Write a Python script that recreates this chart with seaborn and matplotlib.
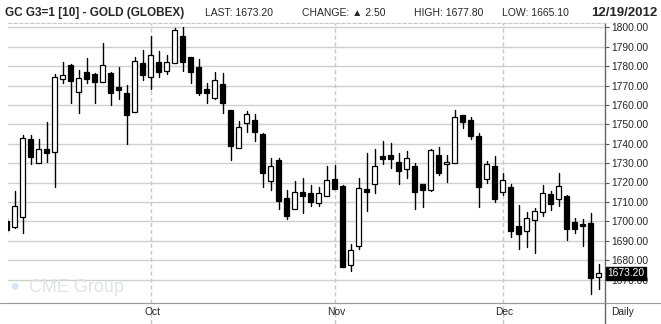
import numpy as np
import pandas as pd
import matplotlib
matplotlib.use("Agg")
import matplotlib.pyplot as plt
from matplotlib.lines import Line2D
import seaborn as sns

# ---------------- data ----------------
opens = [1700.0, 1696.9, 1702.4, 1742.4, 1729.9, 1737.1, 1735.9, 1773.5, 1780.6, 1766.5,
         1777.0, 1775.9, 1771.6, 1776.5, 1769.2, 1766.2, 1756.2, 1781.6, 1774.6, 1782.1,
         1777.7, 1781.4, 1795.5, 1784.7, 1779.6, 1768.2, 1763.7, 1770.8, 1757.4, 1738.0,
         1750.5, 1752.2, 1745.0, 1720.6, 1731.6, 1712.0, 1706.2, 1715.0, 1714.6, 1709.3,
         1712.9, 1721.6, 1718.2, 1677.3, 1687.5, 1716.7, 1719.1, 1733.7, 1734.2, 1730.4,
         1726.8, 1728.5, 1719.1, 1716.3, 1734.0, 1729.4, 1730.2, 1754.6, 1752.2, 1744.0,
         1721.6, 1728.5, 1715.0, 1717.7, 1697.6, 1694.8, 1700.5, 1704.6, 1714.1, 1711.3,
         1713.1, 1699.7, 1698.6, 1699.3, 1671.5]
highs = [1701.5, 1715.6, 1744.5, 1744.5, 1742.4, 1751.2, 1775.9, 1782.1, 1781.1, 1778.0,
         1784.2, 1776.6, 1791.8, 1776.8, 1779.6, 1770.1, 1784.5, 1788.3, 1795.7, 1787.8,
         1785.7, 1799.7, 1800.3, 1784.9, 1783.5, 1771.5, 1777.1, 1776.5, 1757.6, 1751.7,
         1757.0, 1755.3, 1745.4, 1732.6, 1732.6, 1716.2, 1720.6, 1722.3, 1718.7, 1717.9,
         1728.7, 1729.0, 1718.9, 1688.3, 1722.3, 1735.2, 1737.3, 1741.4, 1740.2, 1735.2,
         1736.3, 1729.9, 1719.3, 1737.3, 1738.5, 1734.2, 1757.4, 1754.8, 1754.0, 1745.4,
         1730.9, 1733.7, 1724.7, 1719.1, 1708.2, 1704.6, 1706.7, 1718.7, 1715.6, 1724.9,
         1713.3, 1701.7, 1701.2, 1704.3, 1677.8]
lows = [1694.5, 1696.6, 1693.8, 1729.6, 1729.9, 1730.8, 1717.9, 1771.5, 1760.8, 1756.0,
        1771.1, 1760.8, 1771.6, 1760.0, 1763.1, 1739.9, 1756.2, 1772.9, 1768.0, 1774.6,
        1775.9, 1781.4, 1777.7, 1771.1, 1764.9, 1760.8, 1763.2, 1756.0, 1731.8, 1738.0,
        1746.2, 1741.6, 1717.9, 1716.2, 1706.5, 1701.4, 1706.2, 1704.1, 1708.1, 1708.1,
        1712.9, 1716.5, 1676.6, 1674.6, 1685.9, 1705.5, 1714.8, 1729.4, 1727.7, 1719.4,
        1722.3, 1706.5, 1707.6, 1715.5, 1724.1, 1720.3, 1729.9, 1748.3, 1742.6, 1707.6,
        1719.9, 1710.1, 1713.7, 1692.1, 1685.7, 1686.9, 1683.8, 1702.9, 1705.7, 1708.1,
        1690.4, 1693.8, 1687.5, 1662.5, 1665.1]
closes = [1695.5, 1707.9, 1742.8, 1733.3, 1737.1, 1735.4, 1774.2, 1775.3, 1772.5, 1773.7,
          1773.5, 1772.0, 1780.6, 1766.0, 1767.9, 1755.0, 1782.6, 1775.6, 1785.7, 1777.0,
          1782.0, 1798.6, 1782.3, 1777.1, 1766.3, 1766.3, 1772.9, 1761.2, 1739.0, 1748.5,
          1755.2, 1746.2, 1725.1, 1728.5, 1710.7, 1702.9, 1715.0, 1713.2, 1710.1, 1714.6,
          1721.1, 1716.8, 1676.6, 1685.2, 1717.0, 1715.3, 1728.5, 1732.3, 1732.3, 1726.1,
          1732.6, 1715.3, 1716.3, 1736.6, 1725.1, 1730.4, 1753.6, 1751.4, 1744.2, 1717.9,
          1729.4, 1711.7, 1721.1, 1695.2, 1693.3, 1701.5, 1705.3, 1714.4, 1708.8, 1718.2,
          1696.2, 1696.2, 1697.4, 1670.7, 1673.2]

dates = pd.bdate_range("2012-09-05", "2012-12-19")
dates = dates[~dates.isin(pd.to_datetime(["2012-11-22"]))][:len(opens)]
month_labels = ["Oct", "Nov", "Dec"]
month_numbers = [10, 11, 12]
yticks = [1670, 1680, 1690, 1700, 1710, 1720, 1730, 1740, 1750, 1760, 1770, 1780, 1790, 1800]
last_price = 1673.20

# ---------------- layout ----------------
W, H = 661, 324
def fx(px): return px / W
def fy(py): return 1 - py / H

sns.set_style("white")
plt.rcParams["font.family"] = ["Liberation Sans", "DejaVu Sans"]

fig = plt.figure(figsize=(W / 100, H / 100), dpi=100)
top_px, bot_px, left_px, right_px = 23, 302.7, 8, 605
ax = fig.add_axes([fx(left_px), fy(bot_px), fx(right_px - left_px), (bot_px - top_px) / H])

idx = np.arange(len(opens))
o = np.array(opens); c = np.array(closes)
hi = np.array(highs); lo = np.array(lows)

# wicks (seaborn)
wick_df = pd.DataFrame({
    "pos": np.repeat(idx, 2),
    "unit": np.repeat(idx, 2),
    "price": np.column_stack([lo, hi]).ravel(),
})
sns.lineplot(data=wick_df, x="pos", y="price", units="unit", estimator=None,
             color="black", linewidth=1.0, ax=ax, legend=False, sort=False, zorder=3)

# bodies
bottoms = np.minimum(o, c)
heights = np.maximum(np.abs(c - o), 0.35)
faces = ["white" if cc >= oo else "black" for oo, cc in zip(o, c)]
ax.bar(idx, heights, bottom=bottoms, width=0.56, color=faces, edgecolor="black",
       linewidth=0.9, zorder=4)

ax.set_xlabel(""); ax.set_ylabel("")
x_left = (left_px - 6.7) / 8.0
x_right = (right_px - 6.7) / 8.0
ax.set_xlim(x_left, x_right)
ylim_top = 1800 + (27.3 - top_px) / 1.94
ylim_bot = 1800 - (bot_px - 27.3) / 1.94
ax.set_ylim(ylim_bot, ylim_top)

ax.set_yticks(yticks)
ax.set_yticklabels([f"{v:.2f}" for v in yticks])
ax.yaxis.tick_right()
ax.tick_params(axis="y", direction="out", length=3, width=0.8, color="#555555",
               pad=1.5, labelsize=7.4, right=True, left=False)
ax.set_xticks([])
ax.grid(axis="y", color="#cad2ca", linewidth=1.0, zorder=0)
ax.set_axisbelow(True)

month_pos = [int(np.where(dates.month == m)[0][0]) for m in month_numbers]
for p in month_pos:
    ax.axvline(p, color="#cbc5cb", linewidth=1.0, linestyle=(0, (3, 2)), zorder=1)

ax.spines["left"].set_visible(False)
ax.spines["top"].set_color("#c8c8c8"); ax.spines["top"].set_linestyle((0, (3, 2)))
ax.spines["right"].set_color("#666666"); ax.spines["right"].set_linewidth(1.0)
ax.spines["bottom"].set_color("#9a9a9a"); ax.spines["bottom"].set_linewidth(0.8)

# last price tag
ax.text(1.0045, last_price, f"{last_price:.2f}", transform=ax.get_yaxis_transform(),
        ha="left", va="center", color="white", fontsize=7.4, zorder=20, clip_on=False,
        bbox=dict(boxstyle="square,pad=0.12", facecolor="black", edgecolor="black"))

# watermark
fig.text(fx(10), fy(287), "\u25cf", color="#d6e6f2", fontsize=12, va="center", ha="left")
fig.text(fx(29), fy(287), "CME Group", color="#e0e3ea", fontsize=13, va="center", ha="left")

# bottom band
bax = fig.add_axes([fx(left_px), 0, fx(right_px - left_px), (H - bot_px) / H])
bax.set_xlim(x_left, x_right); bax.set_ylim(0, 1)
bax.set_xticks([]); bax.set_yticks([])
for s in ["left", "top", "bottom"]:
    bax.spines[s].set_visible(False)
bax.spines["right"].set_color("#666666"); bax.spines["right"].set_linewidth(1.0)
bax.patch.set_alpha(0)
for p, lab in zip(month_pos, month_labels):
    bax.axvline(p, color="#cbc5cb", linewidth=1.0, linestyle=(0, (3, 2)))
    bax.text(p + 0.2, 0.55, lab, ha="center", va="center", fontsize=7.4)
fig.add_artist(Line2D([0, 1], [fy(bot_px), fy(bot_px)], color="#9a9a9a", linewidth=0.8))
fig.text(fx(622), fy(312), "Daily", ha="center", va="center", fontsize=7.4)

# header
ty = fy(13)
fig.text(fx(5), ty, "GC G3=1 [10] - GOLD (GLOBEX)", fontsize=8.5, fontweight="bold",
         va="center", ha="left")
fig.text(fx(205), ty, "LAST: 1673.20", fontsize=7.5, va="center", ha="left")
fig.text(fx(302), ty, "CHANGE: \u25b2 2.50", fontsize=7.5, va="center", ha="left")
fig.text(fx(414), ty, "HIGH: 1677.80", fontsize=7.5, va="center", ha="left")
fig.text(fx(502), ty, "LOW: 1665.10", fontsize=7.5, va="center", ha="left")
fig.text(fx(657), ty, "12/19/2012", fontsize=9.5, fontweight="bold",
         va="center", ha="right")

fig.savefig("out.png", dpi=100)
